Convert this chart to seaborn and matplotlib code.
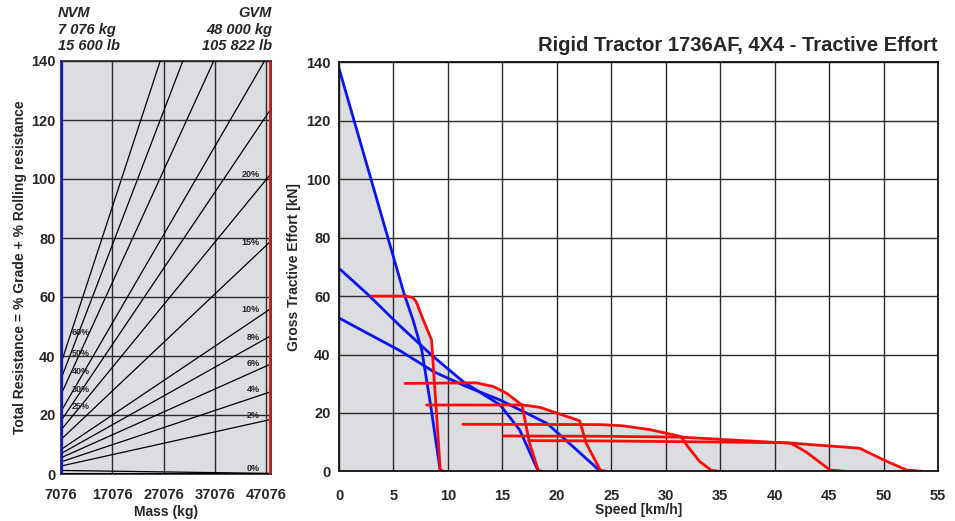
"""Rigid Tractor 1736AF, 4X4 - tractive effort chart with grade/resistance nomogram."""

import matplotlib
matplotlib.use("Agg")
import matplotlib.pyplot as plt
import numpy as np
import pandas as pd
import seaborn as sns

sns.set_theme(style="white")
plt.rcParams["font.family"] = ["Liberation Sans", "DejaVu Sans"]
plt.rcParams["font.weight"] = "bold"

GREY_FILL = "#dcdde0"
GRID_COLOR = "#2a2a2a"
BLUE = "#0a14f5"
RED = "#ff0a0a"

# --- nomogram (left): total resistance lines, kN at NVM and at GVM ---
NVM_KG = 7076
GVM_KG = 48000
GRADE_LABELS = ["0%", "2%", "4%", "6%", "8%", "10%", "15%", "20%",
                "25%", "30%", "40%", "50%", "60%"]
RES_AT_NVM = [1.2, 2.7, 4.1, 5.5, 6.9, 8.3, 11.7, 14.9, 18.0, 21.2, 26.9, 32.2, 37.5]
RES_AT_GVM = [0.2, 18.5, 27.9, 37.3, 46.9, 56.1, 79.0, 101.8, 123.8, 143.8, 182.4, 218.0, 254.5]
# label anchor values (kN) for the printed grade labels
RIGHT_LABELS = ["0%", "2%", "4%", "6%", "8%", "10%", "15%", "20%"]
RIGHT_LABEL_Y = [1.7, 19.7, 28.8, 37.6, 46.4, 55.6, 78.6, 101.4]
LEFT_LABELS = ["25%", "30%", "40%", "50%", "60%"]
LEFT_LABEL_Y = [23.0, 28.5, 34.9, 41.0, 48.1]
MASS_TICKS = [7076, 17076, 27076, 37076, 47076]

# --- tractive effort curves (right): speed km/h, force kN ---
BLUE_1_SPEED = [0, 6.0, 6.8, 7.6, 8.4, 9.3]
BLUE_1_FORCE = [138, 60.5, 51.8, 41.5, 23.0, 0]
BLUE_2_SPEED = [0, 2.7, 4.5, 5.6, 8.5, 11.4, 14.8, 16.6, 18.3]
BLUE_2_FORCE = [69.5, 60.4, 53.8, 49.8, 39.8, 30.7, 22.7, 14.1, 0]
BLUE_3_SPEED = [0, 2.5, 5.6, 8.7, 11.7, 14.8, 19.1, 21.5, 24.0]
BLUE_3_FORCE = [52.5, 47.5, 41.3, 34.1, 29.0, 24.4, 16.4, 8.4, 0]

RED_1_SPEED = [3.0, 6.2, 6.8, 7.1, 7.74, 8.5, 9.3, 9.7]
RED_1_FORCE = [60, 60, 59.4, 58, 51.8, 45, 0.3, 0]
RED_2_SPEED = [6.06, 12.6, 14.2, 15.4, 16.8, 17.5, 18.3, 18.7]
RED_2_FORCE = [30.1, 30.3, 29.0, 26.7, 22.7, 9.6, 0.3, 0]
RED_3_SPEED = [8.05, 16.9, 18.46, 22.1, 22.7, 24.0, 24.6]
RED_3_FORCE = [22.7, 22.7, 21.9, 17.3, 9.6, 0.3, 0]
RED_4_SPEED = [11.36, 24.0, 26.0, 28.5, 30.1, 31.4, 32.0, 33.1, 34.2, 34.9]
RED_4_FORCE = [16.1, 16.0, 15.6, 14.3, 13.0, 11.9, 8.6, 3.4, 0.3, 0]
RED_5_SPEED = [15.1, 24.0, 31.4, 41.5, 42.9, 45.1, 46.5]
RED_5_FORCE = [12.1, 12.0, 11.7, 9.6, 6.6, 0.4, 0]
RED_6_SPEED = [17.4, 24.0, 41.0, 47.8, 50.0, 52.1, 53.5]
RED_6_FORCE = [10.5, 10.4, 9.8, 7.9, 3.9, 0.45, 0]

CURVES = [
    ("b1", "blue", BLUE_1_SPEED, BLUE_1_FORCE),
    ("b2", "blue", BLUE_2_SPEED, BLUE_2_FORCE),
    ("b3", "blue", BLUE_3_SPEED, BLUE_3_FORCE),
    ("r1", "red", RED_1_SPEED, RED_1_FORCE),
    ("r2", "red", RED_2_SPEED, RED_2_FORCE),
    ("r3", "red", RED_3_SPEED, RED_3_FORCE),
    ("r4", "red", RED_4_SPEED, RED_4_FORCE),
    ("r5", "red", RED_5_SPEED, RED_5_FORCE),
    ("r6", "red", RED_6_SPEED, RED_6_FORCE),
]

fig = plt.figure(figsize=(9.55, 5.21), dpi=100)

# ---------------- left: nomogram ----------------
ax1 = fig.add_axes([61 / 955, 47 / 521, 210 / 955, 413 / 521])
ax1.set_facecolor(GREY_FILL)

lines = pd.DataFrame({
    "grade": np.repeat(GRADE_LABELS, 2),
    "mass": [NVM_KG, GVM_KG] * len(GRADE_LABELS),
    "res": [v for pair in zip(RES_AT_NVM, RES_AT_GVM) for v in pair],
})
sns.lineplot(data=lines, x="mass", y="res", units="grade", estimator=None,
             color="black", linewidth=0.9, ax=ax1, zorder=3)

for lab, y in zip(RIGHT_LABELS, RIGHT_LABEL_Y):
    ax1.text(45800, y, lab, fontsize=6.5, fontweight="bold", ha="right", va="center", zorder=4)
for lab, y in zip(LEFT_LABELS, LEFT_LABEL_Y):
    ax1.text(9100, y, lab, fontsize=6.5, fontweight="bold", ha="left", va="center", zorder=4)

ax1.set_xlim(NVM_KG, GVM_KG)
ax1.set_ylim(0, 140)
ax1.set_xticks(MASS_TICKS)
ax1.set_yticks(range(0, 141, 20))
ax1.grid(True, color=GRID_COLOR, linewidth=1.0)
ax1.set_axisbelow(True)
ax1.axvline(NVM_KG, color=BLUE, linewidth=3, zorder=5)
ax1.axvline(GVM_KG, color=RED, linewidth=3.5, zorder=5)
ax1.axhline(0, color="black", linewidth=1.5, zorder=4)
for s in ax1.spines.values():
    s.set_color("#222222")
    s.set_linewidth(1.2)
ax1.tick_params(length=0, labelsize=10.5, pad=4)
ax1.tick_params(axis="x", pad=10)
for t in ax1.get_xticklabels() + ax1.get_yticklabels():
    t.set_fontweight("bold")
ax1.set_xlabel("Mass (kg)", fontsize=10, fontweight="bold", labelpad=2)
ax1.set_ylabel("Total Resistance = % Grade + % Rolling resistance",
               fontsize=10, fontweight="bold", labelpad=3)

fig.text(58 / 955, 1 - 6 / 521, "NVM\n7 076 kg\n15 600 lb", fontsize=10.5,
         fontweight="bold", style="italic", ha="left", va="top", linespacing=1.25)
fig.text(272 / 955, 1 - 6 / 521, "GVM\n48 000 kg\n105 822 lb", fontsize=10.5,
         fontweight="bold", style="italic", ha="right", va="top", linespacing=1.25,
         multialignment="right")

# ---------------- right: tractive effort ----------------
ax2 = fig.add_axes([339 / 955, 49.7 / 521, 599 / 955, 408.8 / 521])
ax2.set_facecolor("white")

rows = []
for name, kind, sp, fo in CURVES:
    for i, (s, f) in enumerate(zip(sp, fo)):
        rows.append({"curve": name, "kind": kind, "order": i, "speed": s, "force": f})
curves = pd.DataFrame(rows)

# grey envelope under all curves
grid_speed = np.linspace(0, 55, 2201)
env = np.zeros_like(grid_speed)
for _, _, sp, fo in CURVES:
    env = np.maximum(env, np.interp(grid_speed, sp, fo, left=0, right=0))
ax2.fill_between(grid_speed, 0, env, color=GREY_FILL, linewidth=0, zorder=1)

sns.lineplot(data=curves, x="speed", y="force", units="curve", hue="kind",
             palette={"blue": BLUE, "red": RED}, estimator=None, sort=False,
             linewidth=2, legend=False, ax=ax2, zorder=4)

ax2.set_xlim(0, 55)
ax2.set_ylim(0, 140)
ax2.set_xticks(range(0, 56, 5))
ax2.set_yticks(range(0, 141, 20))
ax2.grid(True, color=GRID_COLOR, linewidth=1.0, zorder=2)
ax2.set_axisbelow(False)
for gl in ax2.get_xgridlines() + ax2.get_ygridlines():
    gl.set_zorder(2)
for s in ax2.spines.values():
    s.set_color("#111111")
    s.set_linewidth(1.3)
    s.set_zorder(5)
ax2.tick_params(length=0, labelsize=10.5, pad=6)
ax2.tick_params(axis="x", pad=13)
for t in ax2.get_xticklabels() + ax2.get_yticklabels():
    t.set_fontweight("bold")
ax2.set_xlabel("Speed [km/h]", fontsize=10, fontweight="bold", labelpad=0)
ax2.set_ylabel("Gross Tractive Effort [kN]", fontsize=10, fontweight="bold", labelpad=4)
ax2.set_title("Rigid Tractor 1736AF, 4X4 - Tractive Effort", fontsize=14.5,
              fontweight="bold", loc="right", pad=8)

fig.savefig("out.png", dpi=100)
